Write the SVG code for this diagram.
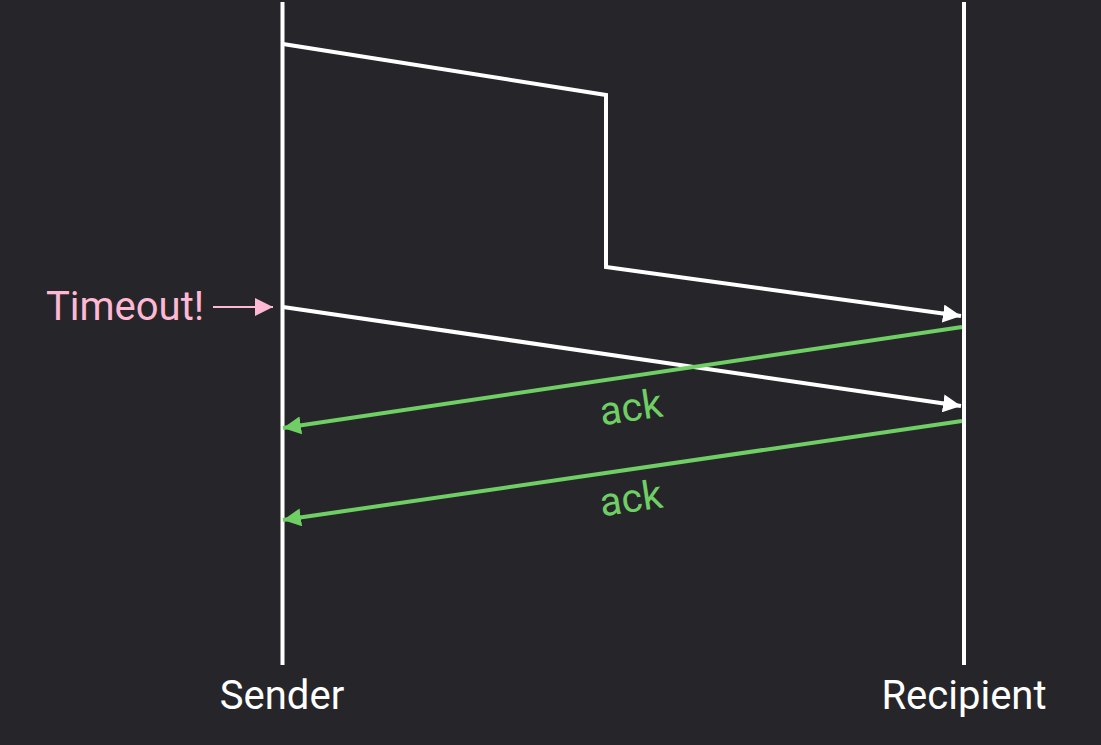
<svg xmlns="http://www.w3.org/2000/svg" width="1101" height="745" viewBox="0 0 1101 745">
<defs>
<style>
.w{stroke:#ffffff;stroke-width:4;fill:none}
.g{stroke:#6fcf65;stroke-width:4;fill:none}
.p{stroke:#ffb8d3;stroke-width:2;fill:none}
text{font-family:Roboto,"Liberation Sans",sans-serif;font-size:40px}
</style>
<marker id="aw" viewBox="0 0 10 10" refX="10" refY="5" markerWidth="4.5" markerHeight="4.5" markerUnits="strokeWidth" orient="auto"><path d="M0,0L10,5L0,10z" fill="#ffffff"/></marker>
<marker id="ag" viewBox="0 0 10 10" refX="10" refY="5" markerWidth="4.5" markerHeight="4.5" markerUnits="strokeWidth" orient="auto"><path d="M0,0L10,5L0,10z" fill="#6fcf65"/></marker>
<marker id="ap" viewBox="0 0 10 10" refX="10" refY="5" markerWidth="9" markerHeight="9" markerUnits="strokeWidth" orient="auto"><path d="M0,0L10,5L0,10z" fill="#ffb8d3"/></marker>
</defs>
<rect width="1101" height="745" fill="#26262a"/>
<g id="sender">
<line class="w" x1="282.5" y1="2" x2="282.5" y2="665"/>
<text x="282" y="709" fill="#ffffff" text-anchor="middle">Sender</text>
</g>
<g id="recipient">
<line class="w" x1="964" y1="2" x2="964" y2="665"/>
<text x="964" y="709" fill="#ffffff" text-anchor="middle">Recipient</text>
</g>
<g id="timeout">
<text x="125" y="320" fill="#ffb8d3" text-anchor="middle">Timeout!</text>
</g>
<g id="connectors">
<line class="p" x1="213" y1="307" x2="273" y2="307" marker-end="url(#ap)"/>
<polyline class="w" points="283,44 606,95 606,267 961,316" marker-end="url(#aw)"/>
<line class="w" x1="283" y1="307" x2="961" y2="406" marker-end="url(#aw)"/>
<line class="g" x1="962" y1="327" x2="283" y2="428" marker-end="url(#ag)"/>
<line class="g" x1="962" y1="421" x2="283" y2="520" marker-end="url(#ag)"/>
</g>
<g id="labels">
<text x="631" y="421" fill="#6fcf65" text-anchor="middle" transform="rotate(-8.5 631 408)">ack</text>
<text x="631" y="512" fill="#6fcf65" text-anchor="middle" transform="rotate(-8.5 631 499)">ack</text>
</g>
</svg>
